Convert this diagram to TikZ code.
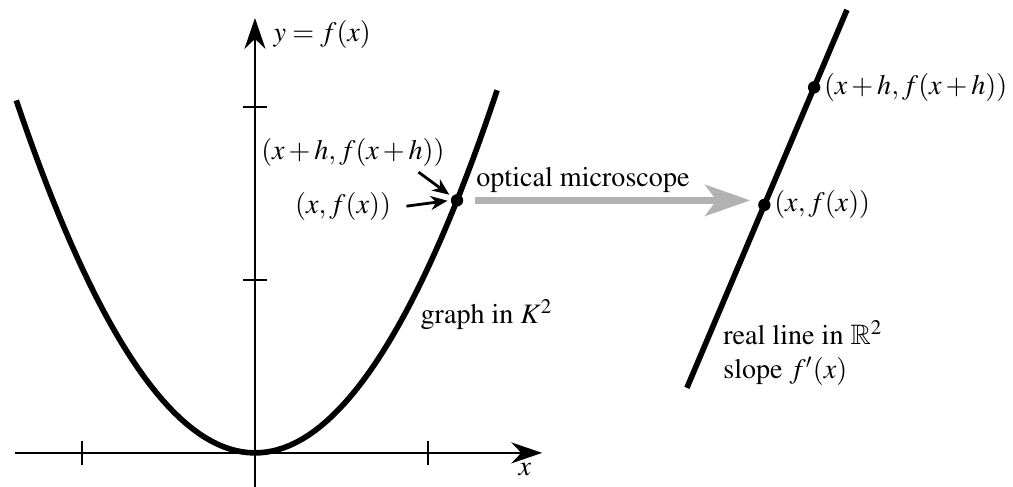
\documentclass[tikz,border=0pt]{standalone}
\usepackage[T1]{fontenc}
\usepackage{amssymb}
\usepackage{mathptmx}
\usetikzlibrary{calc,arrows.meta}

\tikzset{
  axis/.style={line width=0.7pt,-{Stealth[length=11pt,width=7.5pt]}},
  curve/.style={line width=2pt},
  pointer/.style={line width=1pt,-{Stealth[length=6pt,width=5pt]}},
  zoomarrow/.style={gray!60,line width=2.6pt,-{Stealth[length=16pt,width=11pt,inset=4pt]}},
  dot/.style={circle,fill=black,inner sep=0pt,minimum size=4.4pt}
}

\begin{document}
\begin{tikzpicture}[x=2.1625cm,y=2.1625cm]
  \useasboundingbox (-1.474,-0.197) rectangle (4.382,2.618);
  % axes and ticks
  \draw[axis] (-1.39,0) -- (1.66,0);
  \draw[axis] (0,-0.2) -- (0,2.514);
  \foreach \t in {-1,1} \draw[line width=0.7pt] (\t,-0.07) -- (\t,0.07);
  \foreach \t in {1,2} \draw[line width=0.7pt] (-0.07,\t) -- (0.07,\t);
  \node (xlab) at (1.561,-0.098) {$x$};
  \node[anchor=west] (ylab) at (0.05,2.416) {$y=f(x)$};
  % the graph and the point on it
  \draw[curve,domain=-1.38:1.40,samples=80,variable=\t]
    plot ({\t},{1.07*\t*\t});
  \node[dot] (P) at (1.168,{1.07*1.168*1.168}) {};
  \node (Phlab) at (0.566,1.734) {$(x+h,f(x+h))$};
  \node (Plab) at (0.509,1.422) {$(x,f(x))$};
  \draw[pointer,shorten >=1pt] ([xshift=-0.45cm,yshift=0.06cm]Phlab.south east) -- (P);
  \draw[pointer,shorten <=2pt,shorten >=1pt] (Plab.east) -- (P.west);
  \node[anchor=west] (Klab) at (0.90,0.80) {graph in $K^2$};
  % the line seen through the microscope
  \coordinate (L0) at (2.497,0.376);
  \coordinate (L1) at (3.422,2.561);
  \draw[curve] (L0) -- (L1);
  \node[dot] (Q) at ($(L0)!0.484!(L1)$) {};
  \node[dot] (Qh) at ($(L0)!0.795!(L1)$) {};
  \node[right] (Qlab) at (Q) {$(x,f(x))$};
  \node[right] (Qhlab) at (Qh) {$(x+h,f(x+h))$};
  \node[align=left,anchor=west] (Rlab) at (2.65,0.578)
    {real line in $\mathbb{R}^2$\\ slope $f'(x)$};
  % microscope arrow
  \draw[zoomarrow,shorten <=4pt,shorten >=5pt] (P) -- (P -| Q);
  \node (micro) at (1.896,1.578) {optical microscope};
\end{tikzpicture}
\end{document}
